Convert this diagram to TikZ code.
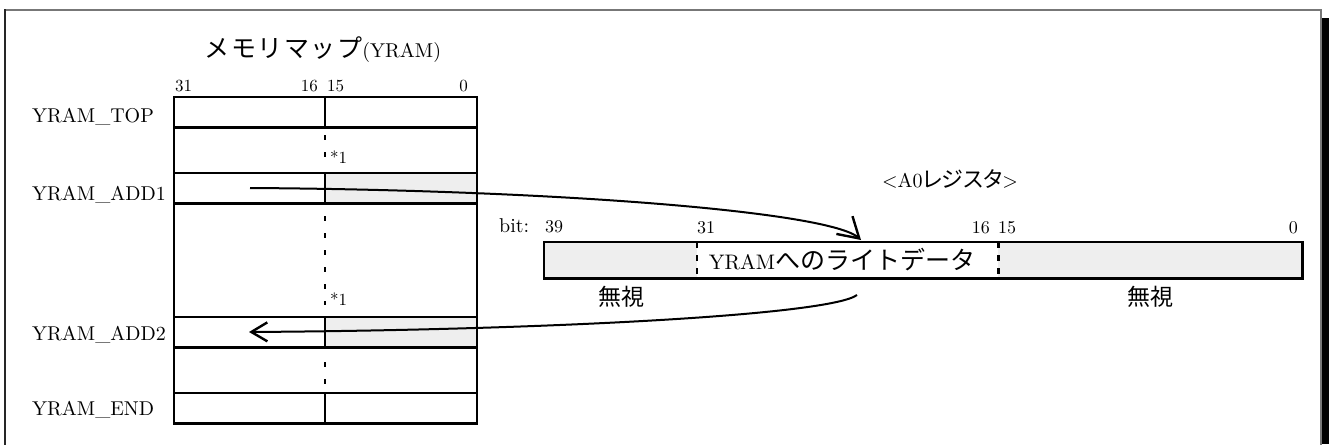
\documentclass[tikz,border=0pt]{standalone}
\usepackage{fontspec}
\setmainfont{lmroman10-regular.otf}
\newfontfamily\jpfont{Noto Sans CJK JP}
\newfontfamily\jpwide[LetterSpace=6]{Noto Sans CJK JP}
\newfontfamily\jpprop[RawFeature=+palt]{Noto Sans CJK JP}
\usetikzlibrary{arrows.meta}
\definecolor{shade}{HTML}{EEEEEE}
\definecolor{framegray}{HTML}{777777}
\newcommand{\fs}[1]{\fontsize{#1}{#1}\selectfont}
\begin{document}
\begin{tikzpicture}[x=1pt,y=-1pt,
  cellL/.style={line width=2.6pt,minimum width=151pt,minimum height=30.5pt,inner sep=0pt,outer sep=0pt,anchor=north west},
  cellR/.style={cellL,minimum width=152pt},
  memline/.style={line width=2.6pt},
  dotline/.style={line width=2.6pt,dash pattern=on 5pt off 12pt},
  regdash/.style={line width=2.6pt,dash pattern=on 6pt off 7pt},
  rowlabel/.style={anchor=base west,inner sep=0pt,font=\fs{20}},
  smallnum/.style={inner sep=0pt,font=\fs{17}},
  regnum/.style={inner sep=0pt,font=\fs{18}},
  flow/.style={line width=2pt},
]
\useasboundingbox (0,0) rectangle (1329,444);
% frame
\draw[framegray,line width=1.6pt] (5,10) -- (1321,10) -- (1321,450);
\draw[black!85,line width=1.8pt] (5,9.2) -- (5,450);
\fill[black] (1322,18) rectangle (1329,444);

% title
\node[anchor=base,inner sep=0pt] (title) at (323,57) {{\jpwide\fs{25}メモリマップ}{\fs{20}(YRAM)}};

% bit numbers memory
\node[smallnum,anchor=base west] (m31) at (175,91) {31};
\node[smallnum,anchor=base east] (m16) at (318,91) {16};
\node[smallnum,anchor=base west] (m15) at (327,91) {15};
\node[smallnum,anchor=base east] (m0) at (468,91) {0};

% memory cells
\node[cellL,draw] (topL) at (174,97) {};
\node[cellR,draw] (topR) at (325,97) {};
\node[cellL,draw] (a1L) at (174,173) {};
\node[cellR,draw,fill=shade] (a1R) at (325,173) {};
\node[cellL,draw] (a2L) at (174,317) {};
\node[cellR,draw,fill=shade] (a2R) at (325,317) {};
\node[cellL,draw] (endL) at (174,393) {};
\node[cellR,draw] (endR) at (325,393) {};
\draw[memline] (topL.north west) -- (endL.south west);
\draw[memline] (topR.north east) -- (endR.south east);
\draw[dotline] (325,135) -- (325,160);
\draw[dotline] (325,216) -- (325,305);
\draw[dotline] (325,362) -- (325,388);
\node[smallnum,anchor=base west] (star1) at (330,163) {*1};
\node[smallnum,anchor=base west] (star2) at (330,305) {*1};

% row labels
\node[rowlabel] (ltop) at (32,122) {YRAM\_TOP};
\node[rowlabel] (ladd1) at (32,200) {YRAM\_ADD1};
\node[rowlabel] (ladd2) at (32,340) {YRAM\_ADD2};
\node[rowlabel] (lend) at (32,415) {YRAM\_END};

% register
\node[anchor=base,inner sep=0pt] (regtitle) at (950,187) {{\fs{20}<A0}{\jpprop\fs{22}レジスタ}{\fs{20}>}};
\node[regnum,anchor=base west,font=\fs{20}] (bit) at (499,232) {bit:};
\node[regnum,anchor=base west] (r39) at (545,232) {39};
\node[regnum,anchor=base west] (r31) at (697,233) {31};
\node[regnum,anchor=base east] (r16) at (990,233) {16};
\node[regnum,anchor=base west] (r15) at (998,233) {15};
\node[regnum,anchor=base east] (r0) at (1298,233) {0};

\node[fill=shade,inner sep=0pt,minimum width=153pt,minimum height=36pt,anchor=north west] (regL) at (544,242) {};
\node[inner sep=0pt,minimum width=301pt,minimum height=36pt,anchor=north west] (regM) at (697,242) {};
\node[fill=shade,inner sep=0pt,minimum width=304pt,minimum height=36pt,anchor=north west] (regR) at (998,242) {};
\draw[line width=2.6pt] (regL.north west) rectangle (regR.south east);
\draw[regdash] (regM.north west) -- (regM.south west);
\draw[regdash] (regM.north east) -- (regM.south east);
\node[inner sep=0pt] (regtext) at (842,260) {{\fs{21}YRAM}{\jpfont\fs{25}へのライトデータ}};
\node[inner sep=0pt,font=\jpfont\fs{23}] (ign1) at (621,297) {無視};
\node[inner sep=0pt,font=\jpfont\fs{23}] (ign2) at (1150,297) {無視};

% arrows
\coordinate (s1) at (250,188);
\coordinate (e1) at (861,240);
\coordinate (s2) at (857,295);
\coordinate (e2) at (249,332);
\draw[flow,-{Straight Barb[length=20pt,width=24pt,line width=2.4pt]}] (s1) .. controls (560,190) and (830,212) .. (e1);
\draw[flow,-{Straight Barb[length=16pt,width=19pt,line width=2.4pt]}] (s2) .. controls (830,315) and (550,330) .. (e2);
\end{tikzpicture}
\end{document}
